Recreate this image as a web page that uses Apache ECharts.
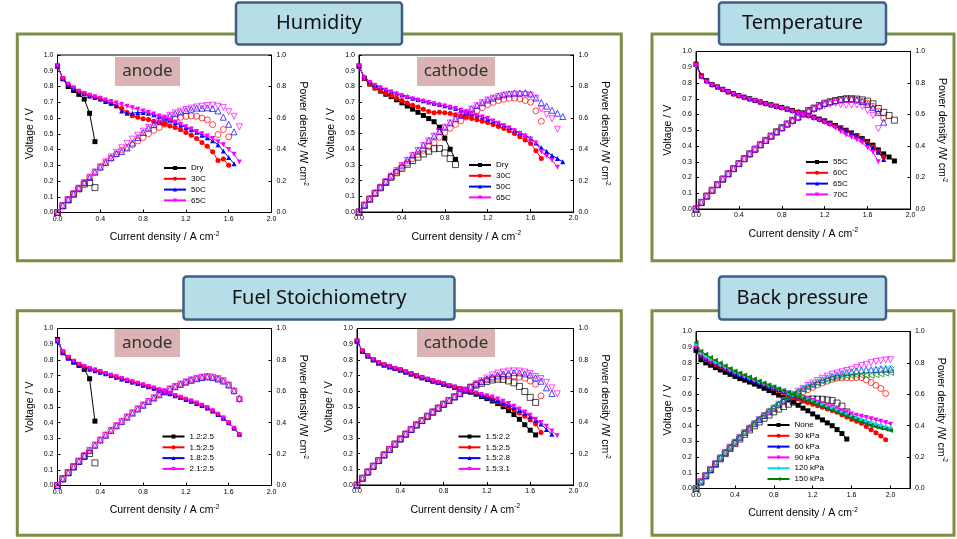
<!DOCTYPE html>
<html><head><meta charset="utf-8">
<script src="https://cdn.jsdelivr.net/npm/echarts@6/dist/echarts.min.js"></script>
<style>html,body{margin:0;padding:0;background:#fff}#c{width:957px;height:539px}</style>
</head><body><div id="c"></div>
<script>
// ---------- DATA ----------
const current = [0,0.05,0.1,0.15,0.2,0.25,0.3,0.35,0.4,0.45,0.5,0.55,0.6,0.65,0.7,0.75,0.8,0.85,0.9,0.95,1.0,1.05,1.1,1.15,1.2,1.25,1.3,1.35,1.4,1.45,1.5,1.55,1.6,1.65,1.7,1.75,1.8,1.85,1.9,1.95,2.0];
const xTicks = ['0.0','0.4','0.8','1.2','1.6','2.0'];

// Humidity - anode
const haLabels = ['Dry','30C','50C','65C'];
const haDryV = [0.93,0.85,0.80,0.775,0.75,0.72,0.63,0.45];
const haDryP = [0,0.043,0.08,0.116,0.15,0.18,0.19,0.158];
const ha30V = [0.93,0.85,0.815,0.79,0.77,0.755,0.74,0.73,0.72,0.705,0.69,0.675,0.66,0.635,0.615,0.605,0.595,0.59,0.58,0.57,0.56,0.55,0.54,0.525,0.508,0.49,0.47,0.445,0.42,0.385,0.33,0.34,0.30];
const ha30P = [0,0.043,0.082,0.119,0.154,0.189,0.222,0.256,0.288,0.317,0.345,0.371,0.396,0.413,0.43,0.454,0.476,0.50,0.522,0.54,0.56,0.578,0.594,0.604,0.61,0.613,0.611,0.60,0.588,0.558,0.495,0.527,0.48];
const ha50V = [0.93,0.85,0.815,0.79,0.77,0.755,0.74,0.73,0.72,0.705,0.695,0.68,0.645,0.63,0.63,0.635,0.635,0.63,0.62,0.61,0.598,0.585,0.57,0.555,0.54,0.525,0.51,0.49,0.475,0.455,0.43,0.39,0.35,0.31];
const ha50P = [0,0.043,0.082,0.119,0.154,0.189,0.222,0.256,0.288,0.317,0.348,0.374,0.387,0.41,0.441,0.476,0.508,0.536,0.558,0.58,0.598,0.614,0.627,0.638,0.648,0.656,0.663,0.662,0.665,0.66,0.645,0.605,0.56,0.512];
const ha65V = [0.93,0.85,0.815,0.79,0.77,0.755,0.745,0.735,0.725,0.715,0.705,0.695,0.685,0.675,0.665,0.655,0.645,0.635,0.625,0.612,0.60,0.588,0.575,0.56,0.545,0.53,0.515,0.50,0.485,0.47,0.45,0.43,0.40,0.37,0.32];
const ha65P = [0,0.043,0.082,0.119,0.154,0.189,0.224,0.257,0.29,0.322,0.353,0.382,0.411,0.439,0.466,0.491,0.516,0.54,0.563,0.581,0.60,0.617,0.633,0.644,0.654,0.663,0.67,0.675,0.679,0.682,0.675,0.667,0.64,0.611,0.544];

// Humidity - cathode
const hcLabels = ['Dry','30C','50C','65C'];
const hcDryV = [0.93,0.85,0.815,0.79,0.77,0.75,0.735,0.715,0.695,0.675,0.655,0.635,0.615,0.595,0.575,0.54,0.47,0.40,0.335];
const hcDryP = [0,0.043,0.082,0.119,0.154,0.188,0.221,0.25,0.278,0.304,0.328,0.349,0.369,0.387,0.403,0.405,0.376,0.34,0.302];
const hc30V = [0.93,0.85,0.815,0.79,0.77,0.755,0.74,0.725,0.71,0.695,0.68,0.668,0.655,0.64,0.632,0.635,0.632,0.627,0.62,0.612,0.605,0.595,0.587,0.578,0.57,0.558,0.545,0.532,0.517,0.50,0.48,0.458,0.437,0.39,0.34];
const hc30P = [0,0.043,0.082,0.119,0.154,0.189,0.222,0.254,0.284,0.313,0.34,0.367,0.393,0.416,0.442,0.476,0.506,0.533,0.558,0.581,0.605,0.625,0.646,0.665,0.684,0.698,0.709,0.718,0.724,0.725,0.72,0.71,0.699,0.644,0.578];
const hc50V = [0.93,0.86,0.83,0.81,0.795,0.78,0.768,0.756,0.745,0.735,0.725,0.716,0.708,0.70,0.692,0.684,0.676,0.668,0.66,0.648,0.636,0.626,0.616,0.605,0.594,0.58,0.567,0.553,0.538,0.522,0.505,0.49,0.47,0.44,0.41,0.385,0.36,0.34,0.32];
const hc50P = [0,0.043,0.083,0.122,0.159,0.195,0.23,0.265,0.298,0.331,0.363,0.394,0.425,0.455,0.484,0.513,0.541,0.568,0.594,0.616,0.636,0.657,0.678,0.696,0.713,0.725,0.737,0.747,0.753,0.757,0.758,0.76,0.752,0.726,0.697,0.674,0.648,0.629,0.608];
const hc65V = [0.93,0.855,0.825,0.805,0.79,0.775,0.765,0.752,0.74,0.73,0.72,0.712,0.705,0.697,0.69,0.682,0.675,0.667,0.66,0.648,0.635,0.625,0.615,0.605,0.595,0.58,0.565,0.55,0.535,0.518,0.50,0.483,0.465,0.44,0.385,0.355,0.33,0.285];
const hc65P = [0,0.043,0.083,0.121,0.158,0.194,0.23,0.263,0.296,0.329,0.36,0.392,0.423,0.453,0.483,0.512,0.54,0.567,0.594,0.616,0.635,0.656,0.677,0.696,0.714,0.725,0.735,0.743,0.749,0.751,0.75,0.749,0.744,0.726,0.655,0.621,0.594,0.527];

// Temperature
const tLabels = ['55C','60C','65C','70C'];
const t55V = [0.92,0.845,0.815,0.79,0.775,0.76,0.745,0.732,0.72,0.71,0.70,0.69,0.68,0.67,0.662,0.653,0.645,0.635,0.625,0.615,0.605,0.595,0.583,0.571,0.56,0.545,0.53,0.515,0.50,0.483,0.465,0.447,0.428,0.405,0.375,0.35,0.33,0.305];
const t55P = [0,0.042,0.082,0.119,0.155,0.19,0.224,0.256,0.288,0.32,0.35,0.38,0.408,0.436,0.463,0.49,0.516,0.54,0.563,0.584,0.605,0.625,0.641,0.657,0.672,0.681,0.689,0.695,0.70,0.70,0.698,0.693,0.685,0.668,0.638,0.613,0.594,0.564];
const t60V = [0.92,0.843,0.812,0.788,0.772,0.757,0.742,0.729,0.717,0.707,0.697,0.687,0.677,0.667,0.659,0.65,0.642,0.632,0.622,0.612,0.602,0.592,0.58,0.568,0.557,0.542,0.527,0.512,0.497,0.48,0.46,0.44,0.42,0.395,0.365,0.33];
const t60P = [0,0.042,0.081,0.118,0.154,0.189,0.223,0.255,0.287,0.318,0.349,0.378,0.406,0.434,0.461,0.488,0.514,0.537,0.56,0.581,0.602,0.622,0.638,0.653,0.668,0.678,0.685,0.691,0.696,0.696,0.69,0.682,0.672,0.652,0.621,0.578];
const t65V = [0.92,0.845,0.815,0.792,0.777,0.762,0.747,0.734,0.722,0.712,0.701,0.691,0.681,0.671,0.662,0.653,0.645,0.635,0.625,0.615,0.605,0.594,0.582,0.57,0.558,0.544,0.529,0.514,0.50,0.483,0.462,0.44,0.415,0.39,0.36,0.315];
const t65P = [0,0.042,0.082,0.119,0.155,0.191,0.224,0.257,0.289,0.32,0.351,0.38,0.409,0.436,0.463,0.49,0.516,0.54,0.563,0.584,0.605,0.624,0.64,0.656,0.67,0.68,0.688,0.694,0.70,0.70,0.693,0.682,0.664,0.644,0.612,0.551];
const t70V = [0.91,0.835,0.805,0.785,0.77,0.755,0.74,0.728,0.715,0.705,0.695,0.685,0.675,0.665,0.655,0.647,0.638,0.628,0.618,0.607,0.597,0.585,0.573,0.56,0.547,0.532,0.515,0.49,0.47,0.455,0.44,0.42,0.39,0.36,0.30];
const t70P = [0,0.042,0.081,0.118,0.154,0.189,0.222,0.255,0.286,0.317,0.348,0.377,0.405,0.432,0.459,0.485,0.51,0.534,0.556,0.577,0.597,0.614,0.63,0.644,0.656,0.665,0.67,0.662,0.658,0.66,0.66,0.651,0.624,0.594,0.51];

// Fuel stoichiometry - anode
const faLabels = ['1.2:2.5','1.5:2.5','1.8:2.5','2.1:2.5'];
const fa12V = [0.93,0.85,0.815,0.79,0.77,0.74,0.68,0.41];
const fa12P = [0,0.043,0.082,0.119,0.154,0.185,0.204,0.144];
const fa15V = [0.92,0.85,0.815,0.79,0.77,0.757,0.745,0.735,0.725,0.713,0.702,0.691,0.68,0.67,0.66,0.65,0.64,0.63,0.62,0.609,0.597,0.585,0.573,0.561,0.549,0.537,0.524,0.51,0.495,0.475,0.453,0.43,0.40,0.365,0.325];
const fa15P = [0,0.043,0.082,0.119,0.154,0.189,0.224,0.257,0.29,0.321,0.351,0.38,0.408,0.436,0.462,0.488,0.512,0.536,0.558,0.579,0.597,0.614,0.63,0.645,0.659,0.671,0.681,0.689,0.693,0.689,0.68,0.667,0.64,0.602,0.553];
const fa18V = [0.92,0.845,0.81,0.785,0.765,0.752,0.741,0.731,0.722,0.711,0.70,0.69,0.679,0.669,0.659,0.649,0.639,0.629,0.619,0.608,0.596,0.584,0.572,0.56,0.548,0.536,0.523,0.509,0.494,0.474,0.452,0.429,0.40,0.366,0.326];
const fa18P = [0,0.042,0.081,0.118,0.153,0.188,0.222,0.256,0.289,0.32,0.35,0.38,0.407,0.435,0.461,0.487,0.511,0.535,0.557,0.578,0.596,0.613,0.629,0.644,0.658,0.67,0.68,0.687,0.692,0.687,0.678,0.665,0.64,0.604,0.554];
const fa21V = [0.92,0.85,0.817,0.792,0.772,0.758,0.746,0.736,0.726,0.714,0.703,0.692,0.681,0.671,0.661,0.651,0.641,0.631,0.621,0.61,0.598,0.586,0.574,0.562,0.55,0.538,0.525,0.511,0.496,0.476,0.454,0.43,0.40,0.364,0.322];
const fa21P = [0,0.043,0.082,0.119,0.154,0.19,0.224,0.258,0.29,0.321,0.352,0.381,0.409,0.436,0.463,0.488,0.513,0.536,0.559,0.58,0.598,0.615,0.631,0.646,0.66,0.673,0.683,0.69,0.694,0.69,0.681,0.667,0.64,0.601,0.547];

// Fuel stoichiometry - cathode
const fcLabels = ['1.5:2.2','1.5:2.5','1.5:2.8','1.5:3.1'];
const fc22V = [0.92,0.855,0.825,0.80,0.78,0.767,0.755,0.745,0.735,0.722,0.71,0.698,0.686,0.675,0.665,0.655,0.645,0.635,0.625,0.615,0.605,0.593,0.58,0.565,0.552,0.537,0.52,0.50,0.475,0.45,0.42,0.385,0.35,0.32];
const fc22P = [0,0.043,0.083,0.12,0.156,0.192,0.227,0.261,0.294,0.325,0.355,0.384,0.412,0.439,0.466,0.491,0.516,0.54,0.563,0.584,0.605,0.623,0.638,0.65,0.662,0.671,0.676,0.675,0.665,0.653,0.63,0.597,0.56,0.528];
const fc25V = [0.92,0.855,0.825,0.80,0.78,0.767,0.755,0.745,0.735,0.722,0.71,0.698,0.686,0.675,0.665,0.655,0.645,0.635,0.625,0.615,0.605,0.595,0.584,0.572,0.56,0.545,0.53,0.515,0.498,0.48,0.46,0.44,0.415,0.39,0.335];
const fc25P = [0,0.043,0.083,0.12,0.156,0.192,0.227,0.261,0.294,0.325,0.355,0.384,0.412,0.439,0.466,0.491,0.516,0.54,0.563,0.584,0.605,0.625,0.642,0.658,0.672,0.681,0.689,0.695,0.697,0.696,0.69,0.682,0.664,0.644,0.57];
const fc28V = [0.92,0.855,0.825,0.80,0.78,0.767,0.755,0.745,0.735,0.722,0.71,0.698,0.686,0.675,0.665,0.655,0.645,0.635,0.625,0.615,0.605,0.596,0.586,0.576,0.565,0.553,0.54,0.525,0.51,0.495,0.478,0.458,0.44,0.415,0.39,0.355,0.325];
const fc28P = [0,0.043,0.083,0.12,0.156,0.192,0.227,0.261,0.294,0.325,0.355,0.384,0.412,0.439,0.466,0.491,0.516,0.54,0.563,0.584,0.605,0.626,0.645,0.662,0.678,0.691,0.702,0.709,0.714,0.718,0.717,0.71,0.704,0.685,0.663,0.621,0.585];
const fc31V = [0.92,0.855,0.825,0.80,0.78,0.767,0.755,0.745,0.735,0.722,0.71,0.698,0.686,0.675,0.665,0.655,0.645,0.635,0.625,0.615,0.605,0.597,0.588,0.579,0.57,0.562,0.55,0.535,0.52,0.503,0.485,0.466,0.445,0.42,0.40,0.375,0.345,0.315];
const fc31P = [0,0.043,0.083,0.12,0.156,0.192,0.227,0.261,0.294,0.325,0.355,0.384,0.412,0.439,0.466,0.491,0.516,0.54,0.563,0.584,0.605,0.627,0.647,0.666,0.684,0.703,0.715,0.722,0.728,0.729,0.728,0.722,0.712,0.693,0.68,0.656,0.621,0.583];

// Back pressure
const bpLabels = ['None','30 kPa','60 kPa','90 kPa','120 kPa','150 kPa'];
const bpNoneV = [0.88,0.82,0.80,0.785,0.77,0.755,0.74,0.727,0.714,0.70,0.69,0.678,0.665,0.652,0.638,0.624,0.61,0.595,0.58,0.565,0.55,0.53,0.512,0.495,0.475,0.455,0.437,0.418,0.40,0.375,0.35,0.315];
const bpNoneP = [0,0.041,0.08,0.118,0.154,0.189,0.222,0.254,0.286,0.315,0.345,0.373,0.399,0.424,0.447,0.468,0.488,0.506,0.522,0.537,0.55,0.557,0.563,0.569,0.57,0.569,0.568,0.564,0.56,0.544,0.525,0.488];
const bp30V = [0.90,0.845,0.82,0.805,0.79,0.775,0.762,0.75,0.738,0.725,0.713,0.70,0.688,0.675,0.663,0.65,0.638,0.625,0.612,0.598,0.585,0.572,0.56,0.548,0.537,0.527,0.517,0.507,0.497,0.485,0.47,0.455,0.44,0.428,0.415,0.395,0.375,0.355,0.335,0.31];
const bp30P = [0,0.042,0.082,0.121,0.158,0.194,0.229,0.263,0.295,0.326,0.357,0.385,0.413,0.439,0.464,0.488,0.51,0.531,0.551,0.568,0.585,0.601,0.616,0.63,0.644,0.659,0.672,0.684,0.696,0.703,0.705,0.705,0.704,0.706,0.706,0.691,0.675,0.657,0.637,0.605];
const bp60V = [0.90,0.85,0.83,0.812,0.797,0.782,0.767,0.752,0.737,0.725,0.713,0.70,0.688,0.676,0.664,0.652,0.64,0.63,0.62,0.61,0.60,0.589,0.578,0.567,0.555,0.544,0.533,0.522,0.51,0.499,0.488,0.477,0.465,0.454,0.443,0.432,0.42,0.41,0.40,0.39,0.38];
const bp60P = [0,0.043,0.083,0.122,0.159,0.196,0.23,0.263,0.295,0.326,0.357,0.385,0.413,0.439,0.465,0.489,0.512,0.536,0.558,0.58,0.60,0.618,0.636,0.652,0.666,0.68,0.693,0.705,0.714,0.724,0.732,0.739,0.744,0.749,0.753,0.756,0.756,0.759,0.76,0.761,0.76];
const bp90V = [0.90,0.85,0.83,0.81,0.795,0.78,0.765,0.75,0.735,0.723,0.711,0.699,0.687,0.675,0.663,0.651,0.64,0.63,0.62,0.61,0.60,0.59,0.58,0.57,0.56,0.55,0.54,0.53,0.52,0.507,0.495,0.485,0.475,0.467,0.46,0.452,0.445,0.437,0.428,0.42,0.41];
const bp90P = [0,0.043,0.083,0.122,0.159,0.195,0.23,0.263,0.294,0.325,0.356,0.384,0.412,0.439,0.464,0.488,0.512,0.536,0.558,0.58,0.60,0.62,0.638,0.656,0.672,0.688,0.702,0.716,0.728,0.735,0.743,0.752,0.76,0.771,0.782,0.791,0.801,0.808,0.813,0.819,0.82];
const bp120V = [0.92,0.865,0.845,0.825,0.807,0.79,0.775,0.76,0.745,0.732,0.72,0.707,0.694,0.682,0.67,0.66,0.65,0.637,0.625,0.612,0.60,0.589,0.578,0.566,0.555,0.543,0.532,0.521,0.51,0.497,0.484,0.472,0.46,0.45,0.44,0.43,0.42,0.411,0.403,0.394,0.385];
const bp120P = [0,0.043,0.085,0.124,0.161,0.198,0.233,0.266,0.298,0.329,0.36,0.389,0.416,0.443,0.469,0.495,0.52,0.541,0.563,0.581,0.60,0.618,0.636,0.651,0.666,0.679,0.692,0.703,0.714,0.721,0.726,0.732,0.736,0.743,0.748,0.753,0.756,0.76,0.766,0.768,0.77];
const bp150V = [0.93,0.875,0.855,0.835,0.817,0.80,0.782,0.765,0.749,0.736,0.723,0.71,0.697,0.684,0.672,0.66,0.648,0.636,0.624,0.613,0.60,0.587,0.574,0.561,0.548,0.536,0.524,0.512,0.50,0.487,0.474,0.462,0.45,0.437,0.424,0.412,0.40,0.392,0.384,0.377,0.37];
const bp150P = [0,0.044,0.086,0.125,0.163,0.20,0.235,0.268,0.30,0.331,0.362,0.391,0.418,0.445,0.47,0.495,0.518,0.541,0.562,0.582,0.60,0.616,0.631,0.645,0.658,0.67,0.681,0.691,0.70,0.706,0.711,0.716,0.72,0.721,0.721,0.721,0.72,0.725,0.73,0.735,0.74];

// ---------- STYLE / LAYOUT ----------
const COL = ['#000000','#ff0000','#0000ff','#ff00ff','#00e0f0','#008000'];
const SYM = ['rect','circle','triangle','path://M0,0L10,0L5,9Z','diamond','path://M9,0L9,10L0,5Z'];
const FONT = 'Liberation Sans, Arial, sans-serif';

const panels = [
  {key:'ha', labels:haLabels, V:[haDryV,ha30V,ha50V,ha65V], P:[haDryP,ha30P,ha50P,ha65P],
   grid:{left:57.5,top:55,width:214,height:157.5}, xMax:2.0, leg:{left:163,top:163}},
  {key:'hc', labels:hcLabels, V:[hcDryV,hc30V,hc50V,hc65V], P:[hcDryP,hc30P,hc50P,hc65P],
   grid:{left:359,top:55,width:214.5,height:157}, xMax:2.0, leg:{left:468,top:160}},
  {key:'t', labels:tLabels, V:[t55V,t60V,t65V,t70V], P:[t55P,t60P,t65P,t70P],
   grid:{left:696,top:51.5,width:214.5,height:157.5}, xMax:2.0, leg:{left:805,top:157}},
  {key:'fa', labels:faLabels, V:[fa12V,fa15V,fa18V,fa21V], P:[fa12P,fa15P,fa18P,fa21P],
   grid:{left:57.5,top:328.5,width:214,height:157}, xMax:2.0, leg:{left:161.5,top:431.5}},
  {key:'fc', labels:fcLabels, V:[fc22V,fc25V,fc28V,fc31V], P:[fc22P,fc25P,fc28P,fc31P],
   grid:{left:357,top:328.5,width:216.5,height:156.5}, xMax:2.0, leg:{left:457.5,top:431.5}},
  {key:'bp', labels:bpLabels, V:[bpNoneV,bp30V,bp60V,bp90V,bp120V,bp150V], P:[bpNoneP,bp30P,bp60P,bp90P,bp120P,bp150P],
   grid:{left:696,top:331.5,width:214,height:157}, xMax:2.2, leg:{left:766.5,top:420}}
];

const grids = [], xAxes = [], yAxes = [], series = [], legends = [];
const tick = {show:true, inside:true, length:3, lineStyle:{color:'#000', width:1}};
const axLine = {show:true, onZero:false, lineStyle:{color:'#000', width:1}};
const nameStyle = {fontSize:10.5, fontFamily:FONT, color:'#000', rich:{sup:{fontSize:6.5, fontFamily:FONT, padding:[0,0,7,0]}}};

panels.forEach((p, i) => {
  grids.push(Object.assign({show:true, borderColor:'#000', borderWidth:1, backgroundColor:'transparent'}, p.grid));
  xAxes.push({gridIndex:i, type:'value', min:0, max:p.xMax, interval:0.4,
    axisLine:axLine, axisTick:tick, splitLine:{show:false},
    axisLabel:{fontSize:7, fontFamily:FONT, color:'#000', margin:3, showMaxLabel: p.xMax <= 2.0,
      formatter: v => xTicks.indexOf(v.toFixed(1)) >= 0 ? v.toFixed(1) : ''},
    name:'Current density / A cm{sup|-2}', nameLocation:'middle', nameGap:18, nameTextStyle:nameStyle});
  yAxes.push({gridIndex:i, type:'value', position:'left', min:0, max:1, interval:0.1,
    axisLine:axLine, axisTick:tick, splitLine:{show:false},
    axisLabel:{fontSize:7, fontFamily:FONT, color:'#000', margin:4, formatter: v => v.toFixed(1)},
    name:'Voltage / V', nameLocation:'middle', nameGap:22, nameTextStyle:nameStyle});
  yAxes.push({gridIndex:i, type:'value', position:'right', min:0, max:1, interval:0.2,
    axisLine:axLine, axisTick:tick, splitLine:{show:false},
    axisLabel:{fontSize:7, fontFamily:FONT, color:'#000', margin:5, formatter: v => v.toFixed(1)},
    name:'Power density /W cm{sup|-2}', nameLocation:'middle', nameRotate:-90, nameGap:24, nameTextStyle:nameStyle});
  const legData = [];
  p.V.forEach((arr, j) => {
    const s = p.key === 'bp' ? j : j;
    const nm = p.key + '|' + p.labels[j];
    legData.push(nm);
    series.push({type:'line', name:nm, xAxisIndex:i, yAxisIndex:2*i,
      data: arr.map((v,k) => [current[k], v]),
      symbol:SYM[s], symbolSize:5, showAllSymbol:true,
      lineStyle:{color:COL[s], width:1}, itemStyle:{color:COL[s]}, z:3});
    series.push({type:'scatter', name:nm + '|P', xAxisIndex:i, yAxisIndex:2*i+1,
      data: p.P[j].map((v,k) => [current[k], v]),
      symbol:SYM[s], symbolSize:6,
      itemStyle:{color:'rgba(255,255,255,0)', borderColor:COL[s], borderWidth:0.9}, z:3});
  });
  legends.push({data:legData, orient:'vertical', left:p.leg.left, top:p.leg.top, padding:0,
    itemWidth:22, itemHeight:5, itemGap:0.8, selectedMode:false,
    textStyle:{fontSize:8, fontFamily:FONT, color:'#000', lineHeight:10},
    formatter: n => n.split('|')[1]});
});

const OLIVE = '#7b8f45', TFILL = '#b7dde8', TSTROKE = '#3f5f86', LFILL = '#dbb3b3';
function panelRect(x, y, w, h) { return {type:'rect', z:0, shape:{x:x, y:y, width:w, height:h}, style:{fill:'none', stroke:OLIVE, lineWidth:3}}; }
function titleBox(x, y, w, h, t) {
  return [{type:'rect', z:20, shape:{x:x, y:y, width:w, height:h, r:3}, style:{fill:TFILL, stroke:TSTROKE, lineWidth:2.5}},
          {type:'text', z:21, x:x + w/2, y:y + h/2, style:{text:t, font:'20px "Noto Sans", sans-serif', fill:'#111', align:'center', verticalAlign:'middle'}}];
}
function labelBox(x, y, w, h, t) {
  return [{type:'rect', z:5, shape:{x:x, y:y, width:w, height:h}, style:{fill:LFILL}},
          {type:'text', z:6, x:x + w/2, y:y + h/2, style:{text:t, font:'17px "Noto Sans", sans-serif', fill:'#333', align:'center', verticalAlign:'middle'}}];
}

const graphic = [
  panelRect(17.3, 34, 604, 226.8),
  panelRect(652, 34, 302, 226.8),
  panelRect(17.3, 310.7, 604, 224.6),
  panelRect(652, 310.7, 302, 224.6),
  ...titleBox(236, 2.5, 166, 42, 'Humidity'),
  ...titleBox(719, 2.5, 167, 42, 'Temperature'),
  ...titleBox(183.5, 276.5, 271, 43, 'Fuel Stoichiometry'),
  ...titleBox(719, 276.5, 167, 43, 'Back pressure'),
  ...labelBox(115, 57, 65, 29, 'anode'),
  ...labelBox(417, 57, 78, 29, 'cathode'),
  ...labelBox(114.5, 329, 65.5, 28, 'anode'),
  ...labelBox(417, 329, 78, 28, 'cathode')
];

const chart = echarts.init(document.getElementById('c'), null, {renderer:'canvas'});
chart.setOption({
  backgroundColor:'#ffffff',
  animation:false,
  textStyle:{fontFamily:FONT},
  grid:grids, xAxis:xAxes, yAxis:yAxes, series:series, legend:legends, graphic:graphic
});
</script>
</body></html>
